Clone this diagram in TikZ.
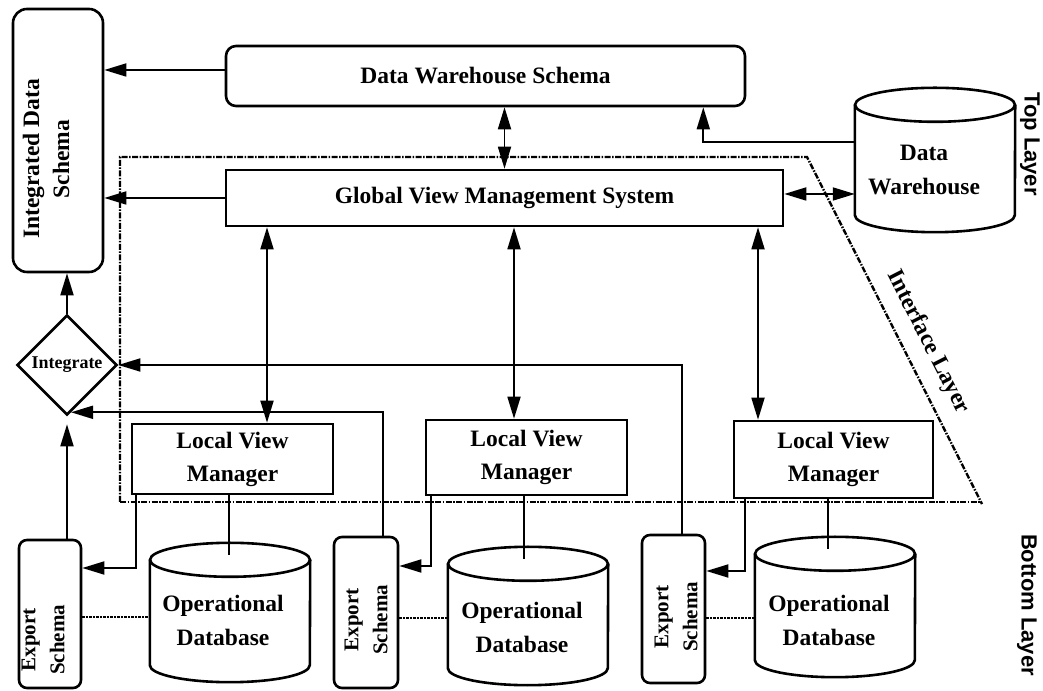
\documentclass[tikz,border=0pt]{standalone}
\usepackage{fontspec}
\setmainfont{Liberation Serif}
\newfontfamily\labelsans{Liberation Sans}
\usetikzlibrary{arrows.meta,shapes.geometric}

\tikzset{
  boxline/.style={draw, line width=2.6pt, inner sep=0pt},
  txt/.style={font=\bfseries\fontsize{23.5}{33}\selectfont, align=center, inner sep=0pt},
  estxt/.style={font=\bfseries\fontsize{21}{29}\selectfont, align=center, inner sep=0pt, rotate=90},
  sidelabel/.style={font=\labelsans\bfseries\fontsize{22}{24}\selectfont, inner sep=0pt, rotate=-90},
  conn/.style={line width=1.8pt},
  tip/.tip={Triangle[length=22pt,width=13pt]},
  arr/.style={conn, -tip},
  darr/.style={conn, tip-tip},
  layerline/.style={line width=2.4pt, dash pattern=on 6pt off 1.5pt on 1.5pt off 1.5pt},
  dotline/.style={line width=1.8pt, dash pattern=on 2.5pt off 1pt},
}

% upright drum drawn around an empty rectangular node
\newcommand\drumshape[1]{%
  \draw[line width=2.6pt] ([yshift=-17pt]#1.north west) -- ([yshift=17pt]#1.south west)
    arc[start angle=180, end angle=360, x radius=80pt, y radius=17pt]
    -- ([yshift=-17pt]#1.north east);
  \draw[line width=2.6pt] ([yshift=-17pt]#1.north) ellipse[x radius=80pt, y radius=17pt];
}

\begin{document}
\begin{tikzpicture}[x=1pt, y=1pt]
\useasboundingbox (0,0) rectangle (1043,690);

% ---------- layer boundary ----------
\coordinate (lb1) at (120,188);
\coordinate (lb2) at (120,533);
\coordinate (lb3) at (807,533);
\coordinate (lb4) at (982,186);
\coordinate (lb5) at (982,188);
\draw[layerline] (lb1) -- (lb2) -- (lb3) -- (lb4);
\draw[layerline] (lb1) -- (lb5);

% ---------- top layer ----------
\node[boxline, rounded corners=14pt, minimum width=90pt, minimum height=263pt] (ids) at (58,549.5) {};
\node[txt, font=\bfseries\fontsize{23.5}{30}\selectfont, rotate=90] (idstext) at (46,531) {Integrated Data\\Schema};

\node[boxline, rounded corners=10pt, minimum width=519pt, minimum height=60pt, txt] (dws) at (485.5,614) {Data Warehouse Schema};
\node[boxline, minimum width=557pt, minimum height=56pt, txt] (gvms) at (504.5,492) {Global View Management System};

\node[minimum width=160pt, minimum height=144pt, inner sep=0pt] (dw) at (935,530) {};
\drumshape{dw}
\node[txt, font=\bfseries\fontsize{23.5}{34}\selectfont] (dwtext) at (924,520) {Data\\Warehouse};

\node[draw, diamond, line width=2.6pt, minimum width=100pt, minimum height=100pt, inner sep=1pt,
      font=\bfseries\fontsize{18}{20}\selectfont] (integ) at (67,325) {Integrate};

% ---------- local view managers ----------
\node[boxline, minimum width=201pt, minimum height=70pt, txt] (lvm1) at (232.5,231) {Local View\\Manager};
\node[boxline, minimum width=201pt, minimum height=75pt, txt] (lvm2) at (526.5,232.5) {Local View\\Manager};
\node[boxline, minimum width=199pt, minimum height=77pt, txt] (lvm3) at (833.5,230.5) {Local View\\Manager};

% ---------- export schemas ----------
\node[boxline, rounded corners=8pt, minimum width=62pt, minimum height=148pt] (es1) at (50,76) {};
\node[boxline, rounded corners=8pt, minimum width=64pt, minimum height=151pt] (es2) at (366,77.5) {};
\node[boxline, rounded corners=8pt, minimum width=63pt, minimum height=148pt] (es3) at (673.5,81) {};
\node[estxt] (es1text) at (43,50) {Export\\Schema};
\node[estxt] (es2text) at (366,70) {Export\\Schema};
\node[estxt] (es3text) at (676,73) {Export\\Schema};

% ---------- operational databases ----------
\node[minimum width=160pt, minimum height=139pt, inner sep=0pt] (db1) at (230,77.5) {};
\node[minimum width=160pt, minimum height=138pt, inner sep=0pt] (db2) at (528,74) {};
\node[minimum width=160pt, minimum height=140pt, inner sep=0pt] (db3) at (835,83) {};
\drumshape{db1}
\drumshape{db2}
\drumshape{db3}
\node[txt, font=\bfseries\fontsize{23.5}{34}\selectfont] (db1text) at (223,70) {Operational\\Database};
\node[txt, font=\bfseries\fontsize{23.5}{34}\selectfont] (db2text) at (522,63) {Operational\\Database};
\node[txt, font=\bfseries\fontsize{23.5}{34}\selectfont] (db3text) at (829,70) {Operational\\Database};

% ---------- layer names ----------
\node[sidelabel] (toplbl) at (1030,546) {Top Layer};
\node[sidelabel] (botlbl) at (1027,85) {Bottom Layer};
\node[txt, rotate=-63] (iflbl) at (928,348) {Interface Layer};

% ---------- connectors: top ----------
\draw[arr] ([yshift=6pt]dws.west) -- ([yshift=6pt]dws.west -| ids.east);
\draw[arr] (gvms.west) -- (gvms.west -| ids.east);
\draw[darr] (gvms.north) -- (gvms.north |- dws.south);
\draw[arr] ([yshift=18pt]dw.west) -| ([xshift=-43pt]dws.south east);
\draw[darr] ([yshift=4pt]gvms.east) -- ([yshift=4pt]gvms.east -| dw.west);

% ---------- connectors: global view to local views ----------
\coordinate (t1) at ([xshift=34.5pt]lvm1.north);
\coordinate (t2) at ([xshift=-12.5pt]lvm2.north);
\coordinate (t3) at ([xshift=-75.5pt]lvm3.north);
\draw[darr] (gvms.south -| t1) -- (t1);
\draw[darr] (gvms.south -| t2) -- (t2);
\draw[darr] (gvms.south -| t3) -- (t3);

% ---------- connectors: integration ----------
\draw[arr] (integ.north) -- (integ.north |- ids.south);
\draw[arr, shorten >=8pt] (es1.north -| integ.south) -- (integ.south);
\draw[arr] ([xshift=17pt]es2.north) |- ([xshift=4pt,yshift=4pt]integ.south);
\draw[arr] ([xshift=8.5pt]es3.north) |- (integ.east);

% ---------- connectors: local view to export schema ----------
\draw[arr] ([xshift=5pt]lvm1.south west) |- ([yshift=46pt]es1.east);
\draw[arr] ([xshift=6pt]lvm2.south west) |- ([yshift=46.5pt]es2.east);
\draw[arr] ([xshift=12pt]lvm3.south west) |- ([yshift=38pt]es3.east);

% ---------- connectors: local view to database ----------
\draw[conn] ([xshift=-1pt]db1.north |- lvm1.south) -- ([xshift=-1pt,yshift=-12pt]db1.north);
\draw[conn] ([xshift=-4pt]db2.north |- lvm2.south) -- ([xshift=-4pt,yshift=-12pt]db2.north);
\draw[conn] ([xshift=-7pt]db3.north |- lvm3.south) -- ([xshift=-7pt,yshift=-12pt]db3.north);

% ---------- export schema to database ----------
\draw[dotline] ([yshift=-3pt]es1.east) -- ([yshift=-3pt]es1.east -| db1.west);
\draw[dotline] ([yshift=-5.5pt]es2.east) -- ([yshift=-5.5pt]es2.east -| db2.west);
\draw[dotline] ([yshift=-9pt]es3.east) -- ([yshift=-9pt]es3.east -| db3.west);

\end{tikzpicture}
\end{document}
